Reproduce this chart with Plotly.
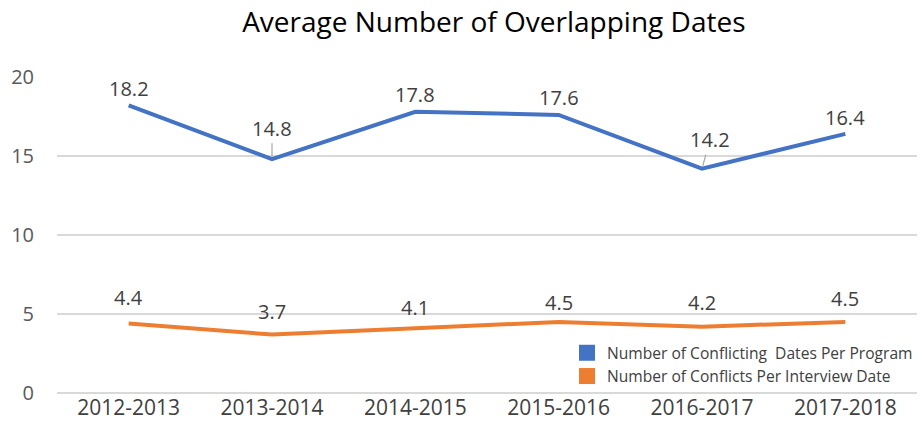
import plotly.graph_objects as go


SEASONS = ['2012-2013', '2013-2014', '2014-2015', '2015-2016', '2016-2017', '2017-2018']
PER_PROGRAM = [18.2, 14.8, 17.8, 17.6, 14.2, 16.4]
PER_INTERVIEW = [4.4, 3.7, 4.1, 4.5, 4.2, 4.5]
Y_TICKS = [0, 5, 10, 15, 20]

BLUE = '#4472C4'
ORANGE = '#ED7D31'
FONT = 'Open Sans'

# pixel offsets of the value labels above their points (style only)
BLUE_SHIFT = [17, 31, 17, 17, 29, 16]
ORANGE_SHIFT = [26, 23, 21, 19, 24, 23]
LEADER = [False, True, False, False, True, False]


def value_labels(values, shifts, leaders):
    anns = []
    for season, val, shift, lead in zip(SEASONS, values, shifts, leaders):
        ann = dict(x=season, y=val, text=f'{val:.1f}', xref='x', yref='y',
                   font=dict(family=FONT, size=20, color='#404040'))
        if lead:
            ann.update(showarrow=True, arrowhead=0, arrowwidth=1.2,
                       arrowcolor='#A6A6A6', ax=8 if val < 14.5 else 0,
                       ay=-shift, standoff=3)
        else:
            ann.update(showarrow=False, yshift=shift)
        anns.append(ann)
    return anns


def create_chart():
    fig = go.Figure()
    fig.add_trace(go.Scatter(x=SEASONS, y=PER_PROGRAM, mode='lines',
                             line=dict(color=BLUE, width=4), showlegend=False))
    fig.add_trace(go.Scatter(x=SEASONS, y=PER_INTERVIEW, mode='lines',
                             line=dict(color=ORANGE, width=4), showlegend=False))
    # square legend swatches like the original spreadsheet chart
    fig.add_trace(go.Scatter(x=[None], y=[None], mode='markers',
                             marker=dict(color=BLUE, symbol='square', size=18),
                             name='Number of Conflicting  Dates Per Program'))
    fig.add_trace(go.Scatter(x=[None], y=[None], mode='markers',
                             marker=dict(color=ORANGE, symbol='square', size=18),
                             name='Number of Conflicts Per Interview Date'))

    anns = value_labels(PER_PROGRAM, BLUE_SHIFT, LEADER)
    anns += value_labels(PER_INTERVIEW, ORANGE_SHIFT, [False] * 6)

    fig.update_layout(
        width=923, height=435,
        margin=dict(l=57, r=6, t=77, b=42, autoexpand=False),
        paper_bgcolor='white', plot_bgcolor='white',
        font=dict(family=FONT, color='#595959'),
        title=dict(text='Average Number of Overlapping Dates',
                   font=dict(family=FONT, size=28, color='#000000'),
                   xref='container', x=0.535, yref='container', y=0.949,
                   xanchor='center', yanchor='middle'),
        legend=dict(x=0.593, y=0.18, xanchor='left', yanchor='top',
                    bgcolor='rgba(255,255,255,0)', tracegroupgap=0,
                    font=dict(family=FONT, size=15.6, color='#404040')),
        annotations=anns,
    )
    fig.update_xaxes(type='category', range=[-0.5, 5.5], showgrid=False,
                     showline=False, ticks='', zeroline=False, automargin=False,
                     tickfont=dict(family=FONT, size=21, color='#404040'))
    fig.update_yaxes(range=[0, 20], tickvals=Y_TICKS, showgrid=True,
                     gridcolor='#D9D9D9', gridwidth=1.5, zeroline=True,
                     zerolinecolor='#D9D9D9', zerolinewidth=1.5, automargin=False,
                     showline=False, ticks='', ticklabelstandoff=22,
                     tickfont=dict(family=FONT, size=20, color='#595959'))
    return fig


def main():
    fig = create_chart()
    # drop the browser's default body margin so the figure sits at 0,0
    fig.write_html('out.html', config={'displayModeBar': False},
                   post_script="document.body.style.margin='0';")


if __name__ == '__main__':
    main()
